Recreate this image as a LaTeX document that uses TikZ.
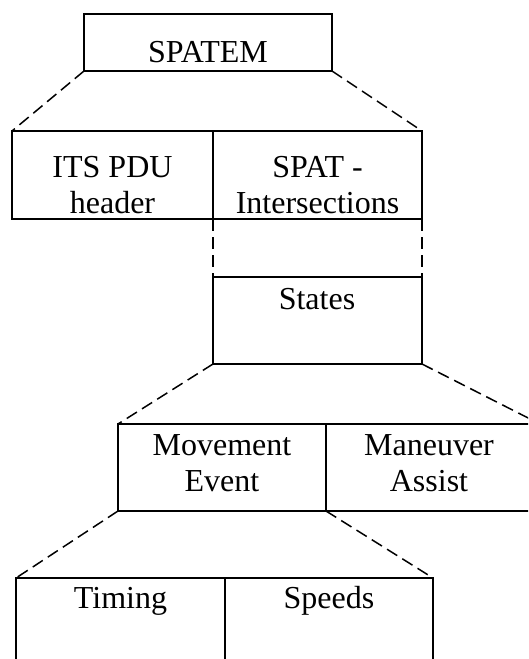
\documentclass[tikz,border=0pt]{standalone}
\usepackage{fontspec}
\setmainfont{Liberation Serif}
\begin{document}
\begin{tikzpicture}[x=1pt,y=-1pt,
  box/.style={draw, line width=1.5pt, inner sep=0pt, outer sep=0pt,
    rectangle, anchor=north west},
  lbl/.style={anchor=base, align=center, inner sep=0pt,
    font=\fontsize{32}{36}\selectfont},
  link/.style={draw, line width=1.5pt, dash pattern=on 12pt off 6pt}]
\useasboundingbox (0,0) rectangle (528,659);
\clip (0,0) rectangle (528,659);

% boxes
\node[box, minimum width=248pt, minimum height=57pt] (spatem) at (84,14) {};
\node[box, minimum width=201pt, minimum height=88pt] (itspdu) at (12,131) {};
\node[box, minimum width=209pt, minimum height=88pt] (spat) at (213,131) {};
\node[box, minimum width=209pt, minimum height=87pt] (states) at (213,277) {};
\node[box, minimum width=208pt, minimum height=87pt] (movement) at (118,424) {};
\node[box, minimum width=214pt, minimum height=87pt] (maneuver) at (326,424) {};
\node[box, minimum width=209pt, minimum height=130pt] (timing) at (16,578) {};
\node[box, minimum width=208pt, minimum height=130pt] (speeds) at (225,578) {};

% labels (two-line labels sit on the baseline of their last line)
\node[lbl] (tspatem) at (208,62) {SPATEM};
\node[lbl] (titspdu) at (112.5,213) {ITS PDU\\header};
\node[lbl] (tspat) at (317.5,213) {SPAT -\\Intersections};
\node[lbl] (tstates) at (317,309) {States};
\node[lbl] (tmovement) at (222,491) {Movement\\Event};
\node[lbl] (tmaneuver) at (429,491) {Maneuver\\Assist};
\node[lbl] (ttiming) at (120.5,608) {Timing};
\node[lbl] (tspeeds) at (329,608) {Speeds};

% dashed expansion lines
\draw[link] (spatem.south west) -- (itspdu.north west);
\draw[link] (spatem.south east) -- (spat.north east);
\draw[link] (spat.south west) -- (states.north west);
\draw[link] (spat.south east) -- (states.north east);
\draw[link] (states.south west) -- (movement.north west);
\draw[link] (states.south east) -- (maneuver.north east);
\draw[link] (movement.south west) -- (timing.north west);
\draw[link] (movement.south east) -- (speeds.north east);
\end{tikzpicture}
\end{document}
